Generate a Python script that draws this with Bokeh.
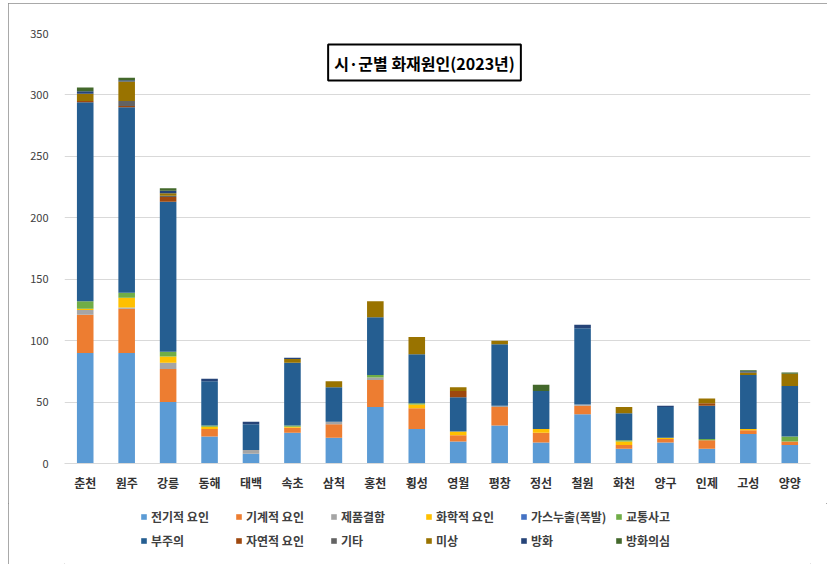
from bokeh.plotting import figure
from bokeh.layouts import column
from bokeh.models import FactorRange, Range1d, FixedTicker, Label, Legend, LegendItem
from bokeh.embed import file_html
from bokeh.resources import INLINE

cities = ["춘천", "원주", "강릉", "동해", "태백", "속초", "삼척", "홍천", "횡성",
          "영월", "평창", "정선", "철원", "화천", "양구", "인제", "고성", "양양"]

causes = ["전기적 요인", "기계적 요인", "제품결함", "화학적 요인", "가스누출(폭발)", "교통사고",
          "부주의", "자연적 요인", "기타", "미상", "방화", "방화의심"]

electric   = [90, 90, 50, 22, 8, 25, 21, 46, 28, 18, 31, 17, 40, 12, 17, 12, 24, 15]
mechanical = [31, 36, 27, 6, 0, 4, 11, 22, 17, 5, 15, 8, 7, 3, 3, 7, 3, 3]
defect     = [4, 1, 5, 0, 3, 0, 2, 2, 0, 0, 1, 0, 1, 0, 0, 0, 0, 0]
chemical   = [1, 8, 5, 2, 0, 1, 0, 0, 3, 3, 0, 3, 0, 3, 1, 0, 1, 0]
gas        = [0, 0, 0, 0, 0, 0, 0, 0, 0, 0, 0, 0, 0, 0, 0, 0, 0, 0]
traffic    = [6, 4, 4, 1, 0, 1, 0, 2, 1, 0, 0, 0, 0, 1, 0, 1, 0, 4]
careless   = [162, 151, 122, 36, 21, 51, 28, 47, 40, 28, 50, 31, 62, 22, 25, 27, 44, 41]
natural    = [1, 1, 4, 0, 0, 0, 0, 0, 0, 5, 0, 0, 0, 0, 0, 2, 0, 0]
other      = [0, 4, 1, 0, 0, 0, 0, 0, 0, 0, 0, 0, 0, 0, 0, 0, 0, 0]
unknown    = [6, 16, 2, 0, 0, 3, 5, 13, 14, 3, 3, 0, 0, 5, 0, 4, 2, 10]
arson      = [2, 1, 2, 2, 2, 1, 0, 0, 0, 0, 0, 0, 3, 0, 1, 0, 1, 0]
suspected  = [3, 2, 2, 0, 0, 0, 0, 0, 0, 0, 0, 5, 0, 0, 0, 0, 1, 1]

y_ticks = [0, 50, 100, 150, 200, 250, 300, 350]
title_text = "시·군별 화재원인(2023년)"

colors = ["#5B9BD5", "#ED7D31", "#A5A5A5", "#FFC000", "#4472C4", "#70AD47",
          "#255E91", "#9E480E", "#636363", "#997300", "#264478", "#43682B"]

series = [electric, mechanical, defect, chemical, gas, traffic,
          careless, natural, other, unknown, arson, suspected]

data = {"city": cities}
for name, vals in zip(causes, series):
    data[name] = vals

FONT = "Noto Sans CJK KR"

# ---- main chart ----
p = figure(x_range=FactorRange(factors=cities, range_padding=0),
           y_range=Range1d(0, 350),
           width=819, height=500, output_backend="svg", toolbar_location=None,
           min_border_left=56, min_border_right=17, min_border_top=30, min_border_bottom=40)

p.vbar_stack(causes, x="city", width=0.4, source=data, color=colors, line_color=None)

p.outline_line_color = None
p.xgrid.grid_line_color = None
p.ygrid.grid_line_color = "#d9d9d9"
p.yaxis.ticker = FixedTicker(ticks=y_ticks)
p.yaxis.axis_line_color = None
p.yaxis.major_tick_line_color = None
p.yaxis.minor_tick_line_color = None
p.yaxis.major_label_text_font = FONT
p.yaxis.major_label_text_font_size = "11px"
p.yaxis.major_label_text_color = "#404040"
p.yaxis.major_label_standoff = 10

p.xaxis.axis_line_color = "#d9d9d9"
p.xaxis.major_tick_line_color = None
p.xaxis.minor_tick_line_color = None
p.xaxis.major_label_text_font = FONT
p.xaxis.major_label_text_font_size = "12px"
p.xaxis.major_label_text_color = "#333333"
p.xaxis.major_label_text_font_style = "bold"
p.xaxis.major_label_standoff = 4

title = Label(x=360, y=401, x_units="screen", y_units="screen", text=title_text,
              text_align="center", text_baseline="middle",
              text_font=FONT, text_font_size="16px", text_font_style="bold",
              text_color="#000000",
              border_line_color="#000000", border_line_width=2,
              background_fill_color="white", padding=6)
p.add_layout(title)

# ---- legend strip (proxy renderers sit outside the strip's visible range) ----
q = figure(width=819, height=61, output_backend="svg", toolbar_location=None,
           x_range=Range1d(0, 1), y_range=Range1d(0, 1),
           x_axis_type=None, y_axis_type=None,
           min_border_left=0, min_border_right=0, min_border_top=0, min_border_bottom=0)
q.outline_line_color = None
q.xgrid.visible = False
q.ygrid.visible = False
items = []
for c, col in zip(causes, colors):
    r = q.vbar(x=[-5], top=[-5], bottom=[-6], width=0.1, color=col, line_color=None)
    items.append(LegendItem(label=c, renderers=[r]))
lg = Legend(items=items, ncols=6, orientation="horizontal", location=(76, 14),
            border_line_alpha=0, background_fill_alpha=0, padding=0, margin=0,
            glyph_width=7, glyph_height=7, label_standoff=4, label_width=80,
            label_height=20, spacing=4,
            label_text_font=FONT, label_text_font_size="12px",
            label_text_color="#404040", label_text_font_style="bold")
q.add_layout(lg)

layout = column(p, q, spacing=0)
layout.styles = {"margin-left": "8px", "margin-top": "3px",
                 "outline": "1px solid #8c8c8c", "outline-offset": "-1px"}

open("out.html", "w").write(file_html(layout, INLINE))
